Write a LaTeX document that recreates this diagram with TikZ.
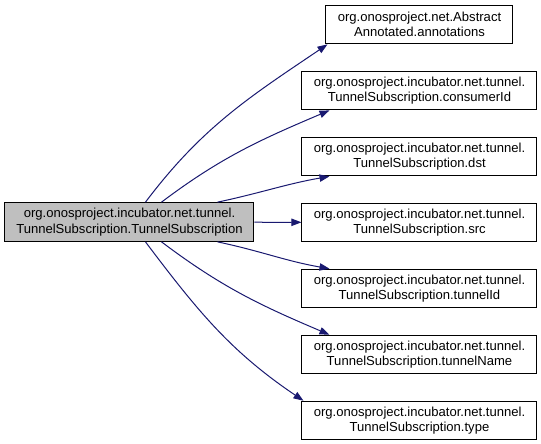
\documentclass[tikz,border=0pt]{standalone}
\usepackage{fontspec}
\setmainfont{Liberation Sans}
\usepackage{xcolor}
\usetikzlibrary{arrows.meta,positioning}

\definecolor{edgeblue}{HTML}{191970}
\definecolor{callgray}{HTML}{BFBFBF}

\begin{document}
\begin{tikzpicture}[node distance=49.5pt, auto,
    block/.style={rectangle, draw=black, line width=0.75pt, fill=white, align=center,
        font=\fontsize{9.8}{11.6}\selectfont, minimum height=29pt, inner sep=1pt},
    caller/.style={block, fill=callgray, minimum width=186.75pt},
    callee/.style={block, minimum width=176.25pt},
    arrow/.style={-{Triangle[length=7.5pt,width=5.5pt]}, draw=edgeblue, line width=0.75pt}]

    \useasboundingbox (0pt,0pt) rectangle (405.75pt,-332.25pt);

    \node[caller] (main) at (97.1pt,-166.5pt) {org.onosproject.incubator.net.tunnel.\\TunnelSubscription.TunnelSubscription};

    \node[block, minimum width=140.25pt] (annot) at (314.6pt,-18.4pt) {org.onosproject.net.Abstract\\Annotated.annotations};
    \node[callee, below of=annot] (consumer) {org.onosproject.incubator.net.tunnel.\\TunnelSubscription.consumerId};
    \node[callee, below of=consumer] (dst) {org.onosproject.incubator.net.tunnel.\\TunnelSubscription.dst};
    \node[callee, below of=dst] (src) {org.onosproject.incubator.net.tunnel.\\TunnelSubscription.src};
    \node[callee, below of=src] (tunnelid) {org.onosproject.incubator.net.tunnel.\\TunnelSubscription.tunnelId};
    \node[callee, below of=tunnelid] (tunnelname) {org.onosproject.incubator.net.tunnel.\\TunnelSubscription.tunnelName};
    \node[callee, below of=tunnelname] (type) {org.onosproject.incubator.net.tunnel.\\TunnelSubscription.type};

    \draw[arrow] ([xshift=12pt]main.north) to[out=53,in=214] ([xshift=1.5pt]annot.south west);
    \draw[arrow] ([xshift=24pt]main.north) to[out=37,in=203] ([xshift=21pt]consumer.south west);
    \draw[arrow] ([xshift=66pt]main.north) to[out=12,in=190] ([xshift=21pt]dst.south west);
    \draw[arrow] (main) -- (src);
    \draw[arrow] ([xshift=66pt]main.south) to[out=-12,in=170] ([xshift=21pt]tunnelid.north west);
    \draw[arrow] ([xshift=24pt]main.south) to[out=-37,in=157] ([xshift=21pt]tunnelname.north west);
    \draw[arrow] ([xshift=12pt]main.south) to[out=-53,in=146] ([xshift=1.5pt]type.north west);

\end{tikzpicture}
\end{document}
